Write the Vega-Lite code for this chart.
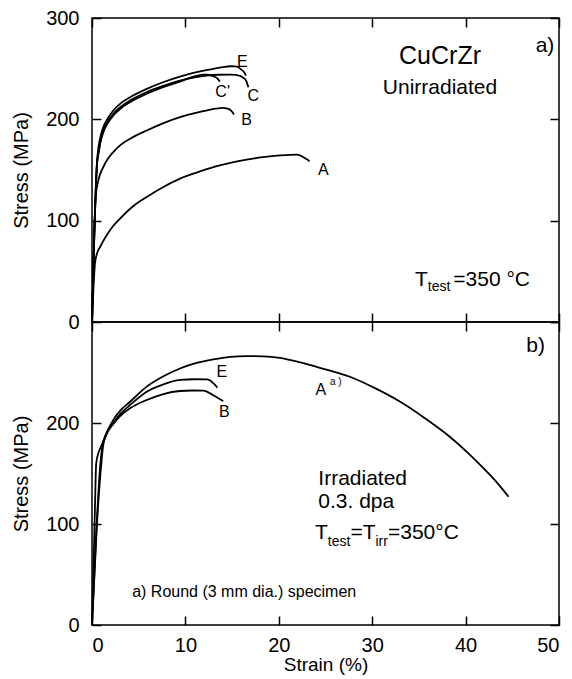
{
  "$schema": "https://vega.github.io/schema/vega-lite/v6.json",
  "padding": {"left": 10, "top": 7, "right": 10, "bottom": 0},
  "spacing": 0,
  "bounds": "flush",
  "config": {
    "font": "Liberation Sans",
    "view": {"stroke": "black", "strokeWidth": 1.5},
    "axis": {"domain": false, "grid": false, "zindex": 1, "labelFontSize": 20, "titleFontSize": 20, "titleFontWeight": "normal", "labelColor": "black", "titleColor": "black", "tickColor": "#000000", "tickOpacity": 1, "tickWidth": 1.5, "tickSize": 9, "offset": -9, "ticks": true},
    "text": {"color": "black", "baseline": "middle"}
  },
  "datasets": {
    "top": [
      {"curve": "A", "strain": 0, "stress": 0}, {"curve": "A", "strain": 0.32, "stress": 57.8}, {"curve": "A", "strain": 0.55, "stress": 68}, {"curve": "A", "strain": 0.86, "stress": 74}, {"curve": "A", "strain": 1.57, "stress": 85.6}, {"curve": "A", "strain": 2.2, "stress": 94}, {"curve": "A", "strain": 3.0, "stress": 102}, {"curve": "A", "strain": 4.3, "stress": 113.5}, {"curve": "A", "strain": 5.86, "stress": 123.4}, {"curve": "A", "strain": 7.6, "stress": 133}, {"curve": "A", "strain": 9.42, "stress": 141.5}, {"curve": "A", "strain": 11.2, "stress": 147.5}, {"curve": "A", "strain": 12.99, "stress": 152.9}, {"curve": "A", "strain": 14.8, "stress": 157}, {"curve": "A", "strain": 16.56, "stress": 160.2}, {"curve": "A", "strain": 18.3, "stress": 162.6}, {"curve": "A", "strain": 20.13, "stress": 164.4}, {"curve": "A", "strain": 21.2, "stress": 165}, {"curve": "A", "strain": 21.9, "stress": 165.1}, {"curve": "A", "strain": 22.3, "stress": 164.3}, {"curve": "A", "strain": 22.6, "stress": 162.8}, {"curve": "A", "strain": 23.0, "stress": 160.5}, {"curve": "A", "strain": 23.3, "stress": 158.5},
      {"curve": "B", "strain": 0, "stress": 0}, {"curve": "B", "strain": 0.39, "stress": 123.4}, {"curve": "B", "strain": 0.68, "stress": 139.8}, {"curve": "B", "strain": 1.21, "stress": 152.9}, {"curve": "B", "strain": 1.7, "stress": 161}, {"curve": "B", "strain": 2.28, "stress": 167.7}, {"curve": "B", "strain": 3.1, "stress": 175}, {"curve": "B", "strain": 4.07, "stress": 180.8}, {"curve": "B", "strain": 5.86, "stress": 189}, {"curve": "B", "strain": 7.6, "stress": 196}, {"curve": "B", "strain": 9.42, "stress": 202.1}, {"curve": "B", "strain": 10.9, "stress": 205.8}, {"curve": "B", "strain": 12.28, "stress": 208.7}, {"curve": "B", "strain": 13.2, "stress": 210.5}, {"curve": "B", "strain": 14.06, "stress": 211.4}, {"curve": "B", "strain": 14.5, "stress": 210.6}, {"curve": "B", "strain": 14.78, "stress": 209.4}, {"curve": "B", "strain": 15.0, "stress": 207.5}, {"curve": "B", "strain": 15.2, "stress": 204.8},
      {"curve": "E", "strain": 0, "stress": 0}, {"curve": "E", "strain": 0.55, "stress": 160}, {"curve": "E", "strain": 0.7, "stress": 173}, {"curve": "E", "strain": 0.86, "stress": 181}, {"curve": "E", "strain": 1.21, "stress": 192.3}, {"curve": "E", "strain": 1.7, "stress": 201}, {"curve": "E", "strain": 2.28, "stress": 208.7}, {"curve": "E", "strain": 3.1, "stress": 216}, {"curve": "E", "strain": 4.07, "stress": 221.8}, {"curve": "E", "strain": 5.86, "stress": 230.1}, {"curve": "E", "strain": 7.6, "stress": 236.6}, {"curve": "E", "strain": 9.42, "stress": 242.2}, {"curve": "E", "strain": 11.2, "stress": 246.5}, {"curve": "E", "strain": 12.99, "stress": 249.8}, {"curve": "E", "strain": 14.0, "stress": 251.5}, {"curve": "E", "strain": 14.78, "stress": 252.4}, {"curve": "E", "strain": 15.3, "stress": 252.2}, {"curve": "E", "strain": 15.67, "stress": 251.4}, {"curve": "E", "strain": 16.0, "stress": 249}, {"curve": "E", "strain": 16.2, "stress": 247.5}, {"curve": "E", "strain": 16.49, "stress": 243.2},
      {"curve": "C", "strain": 0, "stress": 0}, {"curve": "C", "strain": 0.55, "stress": 158}, {"curve": "C", "strain": 0.7, "stress": 168}, {"curve": "C", "strain": 0.86, "stress": 177}, {"curve": "C", "strain": 1.21, "stress": 189}, {"curve": "C", "strain": 1.7, "stress": 198}, {"curve": "C", "strain": 2.28, "stress": 205.4}, {"curve": "C", "strain": 3.1, "stress": 212.5}, {"curve": "C", "strain": 4.07, "stress": 218.6}, {"curve": "C", "strain": 5.86, "stress": 226.8}, {"curve": "C", "strain": 7.6, "stress": 233}, {"curve": "C", "strain": 9.42, "stress": 238.3}, {"curve": "C", "strain": 11.0, "stress": 241.5}, {"curve": "C", "strain": 12.28, "stress": 243.2}, {"curve": "C", "strain": 13.5, "stress": 244}, {"curve": "C", "strain": 14.78, "stress": 244.2}, {"curve": "C", "strain": 15.4, "stress": 243.8}, {"curve": "C", "strain": 15.85, "stress": 242.9}, {"curve": "C", "strain": 16.2, "stress": 241}, {"curve": "C", "strain": 16.49, "stress": 238.3}, {"curve": "C", "strain": 16.74, "stress": 231.7},
      {"curve": "C'", "strain": 0, "stress": 0}, {"curve": "C'", "strain": 0.55, "stress": 157}, {"curve": "C'", "strain": 0.7, "stress": 166}, {"curve": "C'", "strain": 0.86, "stress": 175}, {"curve": "C'", "strain": 1.21, "stress": 187.4}, {"curve": "C'", "strain": 1.7, "stress": 196.5}, {"curve": "C'", "strain": 2.28, "stress": 203.8}, {"curve": "C'", "strain": 3.1, "stress": 211}, {"curve": "C'", "strain": 4.07, "stress": 216.9}, {"curve": "C'", "strain": 5.86, "stress": 225.2}, {"curve": "C'", "strain": 7.6, "stress": 231.8}, {"curve": "C'", "strain": 9.42, "stress": 237.3}, {"curve": "C'", "strain": 10.8, "stress": 242}, {"curve": "C'", "strain": 11.92, "stress": 244.2}, {"curve": "C'", "strain": 12.4, "stress": 244}, {"curve": "C'", "strain": 12.81, "stress": 243.2}, {"curve": "C'", "strain": 13.1, "stress": 242.2}, {"curve": "C'", "strain": 13.35, "stress": 240.9}, {"curve": "C'", "strain": 13.55, "stress": 239}, {"curve": "C'", "strain": 13.7, "stress": 237.3}
    ],
    "topCurveLabels": [
      {"label": "A", "strain": 24.77, "stress": 149.6},
      {"label": "B", "strain": 16.56, "stress": 198.9},
      {"label": "E", "strain": 16.1, "stress": 256.9},
      {"label": "C", "strain": 17.27, "stress": 223.5},
      {"label": "C'", "strain": 13.99, "stress": 227.4}
    ],
    "topTitle": [{"label": "CuCrZr", "strain": 37.26, "stress": 262.9}],
    "topCentered": [
      {"label": "Unirradiated", "strain": 37.26, "stress": 231.4},
      {"label": "a)", "strain": 48.5, "stress": 272.7}
    ],
    "topLeft": [
      {"label": "T", "strain": 34.58, "stress": 41.4},
      {"label": "=350 °C", "strain": 38.68, "stress": 41.4}
    ],
    "topSub": [{"label": "test", "strain": 35.95, "stress": 34.4}],
    "bottom": [
      {"curve": "A", "strain": 0, "stress": 0}, {"curve": "A", "strain": 0.3, "stress": 110}, {"curve": "A", "strain": 0.45, "stress": 160}, {"curve": "A", "strain": 0.75, "stress": 172}, {"curve": "A", "strain": 1.04, "stress": 178}, {"curve": "A", "strain": 1.6, "stress": 191}, {"curve": "A", "strain": 2.28, "stress": 203}, {"curve": "A", "strain": 3.1, "stress": 213}, {"curve": "A", "strain": 4.07, "stress": 221}, {"curve": "A", "strain": 5.86, "stress": 236}, {"curve": "A", "strain": 7.6, "stress": 246}, {"curve": "A", "strain": 9.42, "stress": 254}, {"curve": "A", "strain": 11.2, "stress": 259.5}, {"curve": "A", "strain": 12.99, "stress": 263}, {"curve": "A", "strain": 14.8, "stress": 265.5}, {"curve": "A", "strain": 16.56, "stress": 266.3}, {"curve": "A", "strain": 18.3, "stress": 266}, {"curve": "A", "strain": 20.1, "stress": 264.5}, {"curve": "A", "strain": 22.3, "stress": 260}, {"curve": "A", "strain": 25.0, "stress": 253}, {"curve": "A", "strain": 27.6, "stress": 245.8}, {"curve": "A", "strain": 30.3, "stress": 234.5}, {"curve": "A", "strain": 33.0, "stress": 221}, {"curve": "A", "strain": 35.6, "stress": 205}, {"curve": "A", "strain": 38.3, "stress": 186.4}, {"curve": "A", "strain": 40.3, "stress": 170}, {"curve": "A", "strain": 42.2, "stress": 152.5}, {"curve": "A", "strain": 43.5, "stress": 139.5}, {"curve": "A", "strain": 44.6, "stress": 127},
      {"curve": "E", "strain": 0, "stress": 0}, {"curve": "E", "strain": 0.5, "stress": 100}, {"curve": "E", "strain": 0.9, "stress": 160}, {"curve": "E", "strain": 1.1, "stress": 176}, {"curve": "E", "strain": 1.5, "stress": 189}, {"curve": "E", "strain": 2.28, "stress": 199.7}, {"curve": "E", "strain": 3.1, "stress": 209.5}, {"curve": "E", "strain": 4.07, "stress": 217.8}, {"curve": "E", "strain": 5.86, "stress": 231}, {"curve": "E", "strain": 7.64, "stress": 238.3}, {"curve": "E", "strain": 9.42, "stress": 242.6}, {"curve": "E", "strain": 11.0, "stress": 243.3}, {"curve": "E", "strain": 12.28, "stress": 243.2}, {"curve": "E", "strain": 12.6, "stress": 242.4}, {"curve": "E", "strain": 12.81, "stress": 240.9}, {"curve": "E", "strain": 13.1, "stress": 238.5}, {"curve": "E", "strain": 13.42, "stress": 235},
      {"curve": "B", "strain": 0, "stress": 0}, {"curve": "B", "strain": 0.5, "stress": 95}, {"curve": "B", "strain": 1.0, "stress": 160}, {"curve": "B", "strain": 1.2, "stress": 178}, {"curve": "B", "strain": 1.57, "stress": 189}, {"curve": "B", "strain": 2.28, "stress": 199}, {"curve": "B", "strain": 3.1, "stress": 207.5}, {"curve": "B", "strain": 4.07, "stress": 214.5}, {"curve": "B", "strain": 5.86, "stress": 222.8}, {"curve": "B", "strain": 7.64, "stress": 228.7}, {"curve": "B", "strain": 9.42, "stress": 231.7}, {"curve": "B", "strain": 10.7, "stress": 232.2}, {"curve": "B", "strain": 11.92, "stress": 232}, {"curve": "B", "strain": 12.3, "stress": 231}, {"curve": "B", "strain": 12.63, "stress": 229.4}, {"curve": "B", "strain": 13.0, "stress": 227.5}, {"curve": "B", "strain": 13.35, "stress": 225.4}, {"curve": "B", "strain": 13.7, "stress": 223.5}, {"curve": "B", "strain": 14.06, "stress": 221.8}
    ],
    "bottomCurveLabels": [
      {"label": "A", "strain": 24.5, "stress": 232.7},
      {"label": "E", "strain": 13.9, "stress": 250.8},
      {"label": "B", "strain": 14.17, "stress": 211.2}
    ],
    "bottomSup": [{"label": "a )", "strain": 26.1, "stress": 241}],
    "bottomCentered": [{"label": "b)", "strain": 47.5, "stress": 276}],
    "bottomLeft": [
      {"label": "Irradiated", "strain": 24.23, "stress": 145},
      {"label": "0.3. dpa", "strain": 24.23, "stress": 122},
      {"label": "T", "strain": 23.88, "stress": 90.8},
      {"label": "=T", "strain": 27.67, "stress": 90.8},
      {"label": "=350°C", "strain": 31.69, "stress": 90.8}
    ],
    "bottomSub": [
      {"label": "test", "strain": 25.25, "stress": 82.5},
      {"label": "irr", "strain": 30.35, "stress": 82.5}
    ],
    "bottomNote": [{"label": "a) Round (3 mm dia.) specimen", "strain": 4.3, "stress": 33}]
  },
  "vconcat": [
    {
      "width": 467,
      "height": 304,
      "resolve": {"axis": {"x": "independent", "y": "independent"}},
      "layer": [
        {
          "data": {"name": "top"},
          "mark": {"type": "line", "stroke": "black", "strokeWidth": 1.8, "interpolate": "monotone"},
          "encoding": {
            "x": {"field": "strain", "type": "quantitative", "scale": {"domain": [0, 50], "nice": false}, "axis": {"orient": "bottom", "labels": false, "title": null, "values": [0, 10, 20, 30, 40, 50], "ticks": true, "tickSize": 9}},
            "y": {"field": "stress", "type": "quantitative", "scale": {"domain": [0, 300], "nice": false}, "axis": {"orient": "left", "title": "Stress (MPa)", "values": [0, 100, 200, 300], "labelPadding": 13, "titlePadding": 14, "ticks": true, "tickSize": 9}},
            "detail": {"field": "curve"}
          }
        },
        {
          "data": {"name": "topCurveLabels"},
          "mark": {"type": "text", "fontSize": 16, "align": "center"},
          "encoding": {
            "x": {"field": "strain", "type": "quantitative", "scale": {"domain": [0, 50], "nice": false}, "axis": {"orient": "top", "labels": false, "title": null, "values": [0, 10, 20, 30, 40, 50], "ticks": true, "tickSize": 9}},
            "y": {"field": "stress", "type": "quantitative", "scale": {"domain": [0, 300], "nice": false}, "axis": {"orient": "right", "labels": false, "title": null, "values": [0, 100, 200, 300], "ticks": true, "tickSize": 9}},
            "text": {"field": "label"}
          }
        },
        {
          "data": {"name": "topTitle"},
          "mark": {"type": "text", "fontSize": 25, "align": "center"},
          "encoding": {
            "x": {"field": "strain", "type": "quantitative", "scale": {"domain": [0, 50], "nice": false}, "axis": null},
            "y": {"field": "stress", "type": "quantitative", "scale": {"domain": [0, 300], "nice": false}, "axis": null},
            "text": {"field": "label"}
          }
        },
        {
          "data": {"name": "topCentered"},
          "mark": {"type": "text", "fontSize": 21, "align": "center"},
          "encoding": {
            "x": {"field": "strain", "type": "quantitative", "scale": {"domain": [0, 50], "nice": false}, "axis": null},
            "y": {"field": "stress", "type": "quantitative", "scale": {"domain": [0, 300], "nice": false}, "axis": null},
            "text": {"field": "label"}
          }
        },
        {
          "data": {"name": "topLeft"},
          "mark": {"type": "text", "fontSize": 21, "align": "left"},
          "encoding": {
            "x": {"field": "strain", "type": "quantitative", "scale": {"domain": [0, 50], "nice": false}, "axis": null},
            "y": {"field": "stress", "type": "quantitative", "scale": {"domain": [0, 300], "nice": false}, "axis": null},
            "text": {"field": "label"}
          }
        },
        {
          "data": {"name": "topSub"},
          "mark": {"type": "text", "fontSize": 14, "align": "left"},
          "encoding": {
            "x": {"field": "strain", "type": "quantitative", "scale": {"domain": [0, 50], "nice": false}, "axis": null},
            "y": {"field": "stress", "type": "quantitative", "scale": {"domain": [0, 300], "nice": false}, "axis": null},
            "text": {"field": "label"}
          }
        }
      ]
    },
    {
      "width": 467,
      "height": 303,
      "resolve": {"axis": {"x": "independent", "y": "independent"}},
      "layer": [
        {
          "data": {"name": "bottom"},
          "mark": {"type": "line", "stroke": "black", "strokeWidth": 1.8, "interpolate": "monotone"},
          "encoding": {
            "x": {"field": "strain", "type": "quantitative", "scale": {"domain": [0, 50], "nice": false}, "axis": {"orient": "bottom", "title": "Strain (%)", "titleFontSize": 19, "values": [0, 10, 20, 30, 40, 50], "labelPadding": 10, "titlePadding": 0, "ticks": true, "tickSize": 9}},
            "y": {"field": "stress", "type": "quantitative", "scale": {"domain": [0, 300], "nice": false}, "axis": {"orient": "left", "title": "Stress (MPa)", "values": [0, 100, 200], "labelPadding": 13, "titlePadding": 14, "ticks": true, "tickSize": 9}},
            "detail": {"field": "curve"}
          }
        },
        {
          "data": {"name": "bottomCurveLabels"},
          "mark": {"type": "text", "fontSize": 16, "align": "center"},
          "encoding": {
            "x": {"field": "strain", "type": "quantitative", "scale": {"domain": [0, 50], "nice": false}, "axis": {"orient": "top", "labels": false, "title": null, "values": [0, 10, 20, 30, 40, 50], "ticks": true, "tickSize": 9}},
            "y": {"field": "stress", "type": "quantitative", "scale": {"domain": [0, 300], "nice": false}, "axis": {"orient": "right", "labels": false, "title": null, "values": [0, 100, 200, 300], "ticks": true, "tickSize": 9}},
            "text": {"field": "label"}
          }
        },
        {
          "data": {"name": "bottomSup"},
          "mark": {"type": "text", "fontSize": 10, "align": "center"},
          "encoding": {
            "x": {"field": "strain", "type": "quantitative", "scale": {"domain": [0, 50], "nice": false}, "axis": null},
            "y": {"field": "stress", "type": "quantitative", "scale": {"domain": [0, 300], "nice": false}, "axis": null},
            "text": {"field": "label"}
          }
        },
        {
          "data": {"name": "bottomCentered"},
          "mark": {"type": "text", "fontSize": 21, "align": "center"},
          "encoding": {
            "x": {"field": "strain", "type": "quantitative", "scale": {"domain": [0, 50], "nice": false}, "axis": null},
            "y": {"field": "stress", "type": "quantitative", "scale": {"domain": [0, 300], "nice": false}, "axis": null},
            "text": {"field": "label"}
          }
        },
        {
          "data": {"name": "bottomLeft"},
          "mark": {"type": "text", "fontSize": 21, "align": "left"},
          "encoding": {
            "x": {"field": "strain", "type": "quantitative", "scale": {"domain": [0, 50], "nice": false}, "axis": null},
            "y": {"field": "stress", "type": "quantitative", "scale": {"domain": [0, 300], "nice": false}, "axis": null},
            "text": {"field": "label"}
          }
        },
        {
          "data": {"name": "bottomSub"},
          "mark": {"type": "text", "fontSize": 14, "align": "left"},
          "encoding": {
            "x": {"field": "strain", "type": "quantitative", "scale": {"domain": [0, 50], "nice": false}, "axis": null},
            "y": {"field": "stress", "type": "quantitative", "scale": {"domain": [0, 300], "nice": false}, "axis": null},
            "text": {"field": "label"}
          }
        },
        {
          "data": {"name": "bottomNote"},
          "mark": {"type": "text", "fontSize": 16, "align": "left"},
          "encoding": {
            "x": {"field": "strain", "type": "quantitative", "scale": {"domain": [0, 50], "nice": false}, "axis": null},
            "y": {"field": "stress", "type": "quantitative", "scale": {"domain": [0, 300], "nice": false}, "axis": null},
            "text": {"field": "label"}
          }
        }
      ]
    }
  ]
}
